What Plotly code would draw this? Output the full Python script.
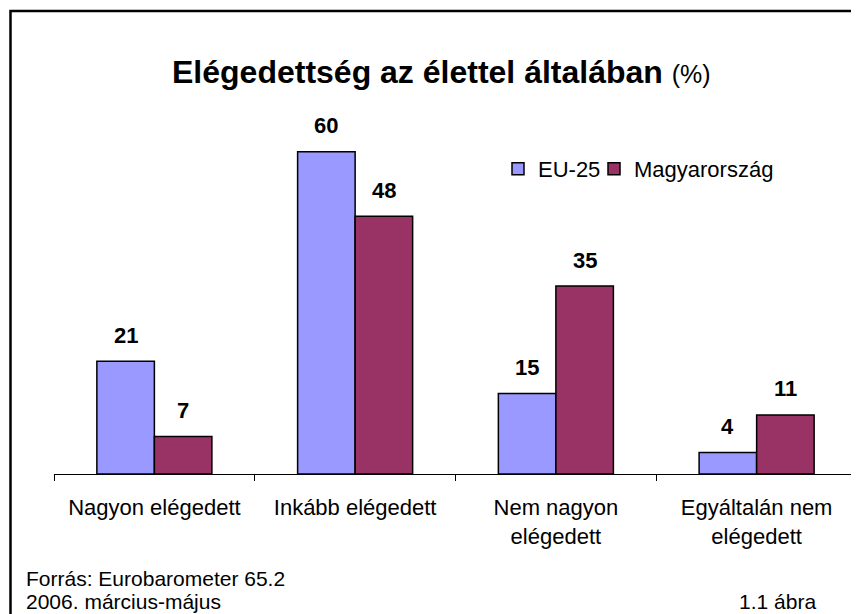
import plotly.graph_objects as go

categories = ["Nagyon elégedett", "Inkább elégedett", "Nem nagyon elégedett", "Egyáltalán nem elégedett"]
tick_labels = ["Nagyon elégedett", "Inkább elégedett", "Nem nagyon<br>elégedett", "Egyáltalán nem<br>elégedett"]
eu25 = [21, 60, 15, 4]
magyarorszag = [7, 48, 35, 11]
series_names = ["EU-25", "Magyarország"]

OFF = 8  # browser default body margin
W, H = 859 - OFF, 614 - OFF
ML, MR = 54 - OFF, 2
MT = 98 - OFF
MB = H - (474 - OFF)
PW, PH = W - ML - MR, H - MT - MB


def px_x(px):
    return (px - OFF - ML) / PW


def px_y(py):
    return (H - MB - (py - OFF)) / PH


FONT = "Liberation Sans, Arial, sans-serif"

fig = go.Figure()
fig.add_trace(go.Bar(x=categories, y=eu25, name=series_names[0], legend="legend",
                     marker=dict(color="#9999FF", line=dict(color="black", width=1.5))))
fig.add_trace(go.Bar(x=categories, y=magyarorszag, name=series_names[1], legend="legend2",
                     marker=dict(color="#993366", line=dict(color="black", width=1.5))))

bargap = 0.427
cat_px = PW / len(categories)
bar_px = cat_px * (1 - bargap) / 2

annotations = []
for vals, sh in ((eu25, -bar_px / 2), (magyarorszag, bar_px / 2)):
    for c, v in zip(categories, vals):
        annotations.append(dict(x=c, y=v, xref="x", yref="y", text=f"<b>{v}</b>",
                                showarrow=False, xshift=sh, yshift=26, yanchor="middle",
                                font=dict(family=FONT, size=22, color="black")))

annotations.append(dict(x=px_x(441), y=px_y(72), xref="paper", yref="paper",
                        text="<b>Elégedettség az élettel általában</b> <span style='font-size:25px'>(%)</span>",
                        showarrow=False, xanchor="center", yanchor="middle",
                        font=dict(family=FONT, size=32, color="black")))
annotations.append(dict(x=px_x(24), y=px_y(578), xref="paper", yref="paper",
                        text="Forrás: Eurobarometer 65.2", showarrow=False,
                        xanchor="left", yanchor="middle",
                        font=dict(family=FONT, size=21, color="black")))
annotations.append(dict(x=px_x(24), y=px_y(601), xref="paper", yref="paper",
                        text="2006. március-május", showarrow=False,
                        xanchor="left", yanchor="middle",
                        font=dict(family=FONT, size=21, color="black")))
annotations.append(dict(x=px_x(818), y=px_y(601), xref="paper", yref="paper",
                        text="1.1 ábra", showarrow=False,
                        xanchor="right", yanchor="middle",
                        font=dict(family=FONT, size=21, color="black")))

shapes = [dict(type="rect", xref="paper", yref="paper",
               x0=px_x(10.5), x1=px_x(880), y0=px_y(640), y1=px_y(11),
               line=dict(color="black", width=2.5), fillcolor="rgba(0,0,0,0)", layer="below")]

legend_common = dict(orientation="h", xanchor="left", yanchor="middle",
                     font=dict(family=FONT, size=22, color="black"), itemwidth=30,
                     bgcolor="rgba(0,0,0,0)")

fig.update_layout(
    width=W, height=H,
    margin=dict(l=ML, r=MR, t=MT, b=MB, pad=0),
    paper_bgcolor="white", plot_bgcolor="white",
    barmode="group", bargap=bargap, bargroupgap=0,
    font=dict(family=FONT, size=22, color="black"),
    xaxis=dict(tickvals=categories, ticktext=tick_labels, showline=True, linecolor="black",
               linewidth=1, ticks="outside", tickson="boundaries", ticklen=6, tickcolor="black",
               tickwidth=1, showgrid=False, ticklabelstandoff=14,
               tickfont=dict(family=FONT, size=22, color="black")),
    yaxis=dict(range=[0, 70], visible=False, showgrid=False, zeroline=False),
    legend=dict(x=px_x(498), y=px_y(169), **legend_common),
    legend2=dict(x=px_x(594), y=px_y(169), **legend_common),
    showlegend=True,
    annotations=annotations,
    shapes=shapes,
)

fig.write_html("out.html")
